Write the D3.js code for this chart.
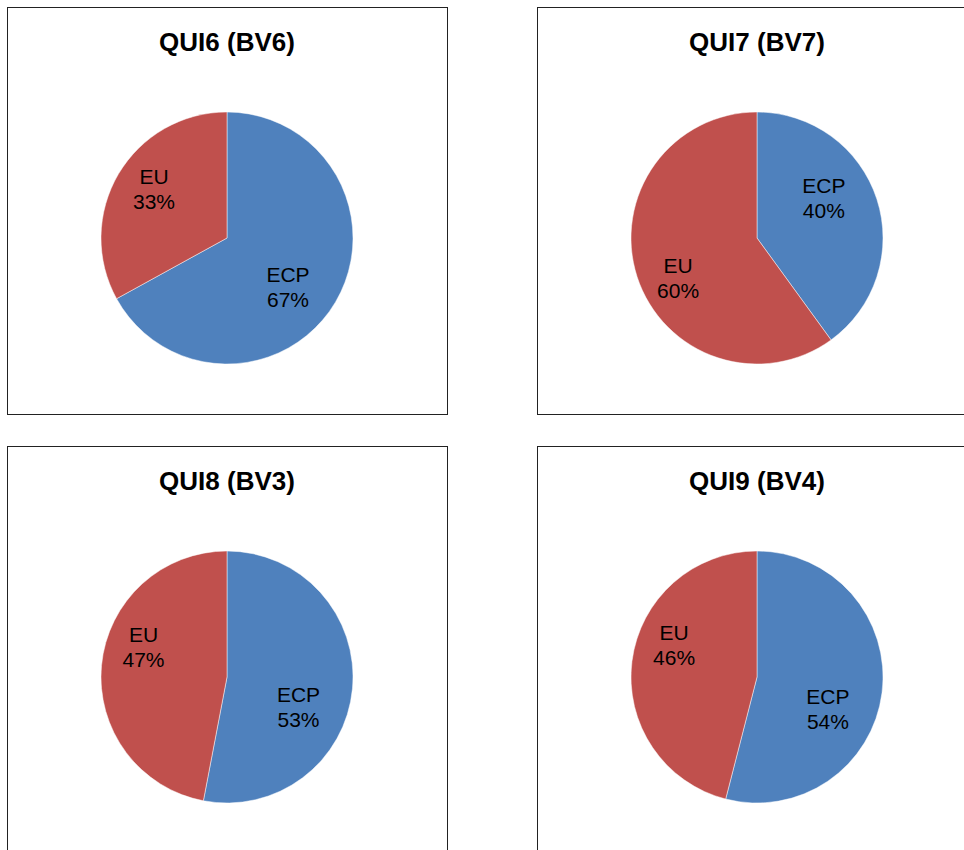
<!DOCTYPE html>
<html>
<head>
<meta charset="utf-8">
<script src="https://cdn.jsdelivr.net/npm/d3@7"></script>
<style>
  body { margin: 0; background: #fff; }
  text { font-family: "Liberation Sans", Arial, sans-serif; }
</style>
</head>
<body>
<div id="charts"></div>
<script>
// chart data
var chartTitles = ["QUI6 (BV6)", "QUI7 (BV7)", "QUI8 (BV3)", "QUI9 (BV4)"];
var categories = ["ECP", "EU"];
var ecpShare = [67, 40, 53, 54];
var euShare = [33, 60, 47, 46];

var svgWidth = 964;
var svgHeight = 850;

var panelWidth = 440;
var panelHeight = 407;
var panelGapX = 90;
var panelGapY = 32;
var radius = 126;
var labelRadius = radius * 0.66;

var colors = d3.scaleOrdinal()
  .domain(categories)
  .range(["#4f81bd", "#c0504d"]);

var svg = d3.select("#charts")
  .append("svg")
  .attr("width", svgWidth)
  .attr("height", svgHeight);

var pie = d3.pie()
  .sort(null)
  .value(d => d.value);

var arc = d3.arc()
  .innerRadius(0)
  .outerRadius(radius);

// best-fit style label spot: start from the slice bisector and
// push labels that sit near the horizontal away from it a little
function labelPos(d) {
  var mid = (d.startAngle + d.endAngle) / 2 * 180 / Math.PI;
  var axis = mid < 180 ? 90 : 270;
  var dev = mid - axis;
  if (Math.abs(dev) < 45) {
    var s = dev < 0 ? -1 : 1;
    dev = dev + s * 18 * (1 - Math.abs(dev) / 45);
  }
  var a = (axis + dev) * Math.PI / 180;
  return [Math.sin(a) * labelRadius - 6, -Math.cos(a) * labelRadius];
}

chartTitles.forEach(function(title, i) {
  var col = i % 2;
  var row = Math.floor(i / 2);
  var px = 7 + col * (panelWidth + panelGapX);
  var py = 7 + row * (panelHeight + panelGapY);

  var panel = svg.append("g")
    .attr("transform", `translate(${px}, ${py})`);

  // frame
  panel.append("rect")
    .attr("x", 0.5)
    .attr("y", 0.5)
    .attr("width", panelWidth)
    .attr("height", panelHeight)
    .attr("fill", "none")
    .attr("stroke", "#222")
    .attr("stroke-width", 1);

  // title
  panel.append("text")
    .attr("x", 220)
    .attr("y", 44)
    .attr("text-anchor", "middle")
    .attr("font-size", "26px")
    .attr("font-weight", "bold")
    .attr("fill", "#000")
    .text(title);

  var slices = [
    { name: categories[0], value: ecpShare[i] },
    { name: categories[1], value: euShare[i] }
  ];

  var pieGroup = panel.append("g")
    .attr("transform", `translate(220, 231)`);

  var arcs = pie(slices);

  pieGroup.selectAll("path")
    .data(arcs)
    .enter()
    .append("path")
    .attr("d", arc)
    .attr("fill", d => colors(d.data.name))
    .attr("stroke", "#ffffff")
    .attr("stroke-opacity", 0.6)
    .attr("stroke-width", 0.8);

  // data labels: name on top, percent below
  var labels = pieGroup.selectAll("g.lbl")
    .data(arcs)
    .enter()
    .append("g")
    .attr("class", "lbl")
    .attr("transform", d => `translate(${labelPos(d)})`);

  labels.append("text")
    .attr("y", -5)
    .attr("text-anchor", "middle")
    .attr("font-size", "21px")
    .attr("fill", "#000")
    .text(d => d.data.name);

  labels.append("text")
    .attr("y", 20)
    .attr("text-anchor", "middle")
    .attr("font-size", "21px")
    .attr("fill", "#000")
    .text(d => d.data.value + "%");
});
</script>
</body>
</html>
